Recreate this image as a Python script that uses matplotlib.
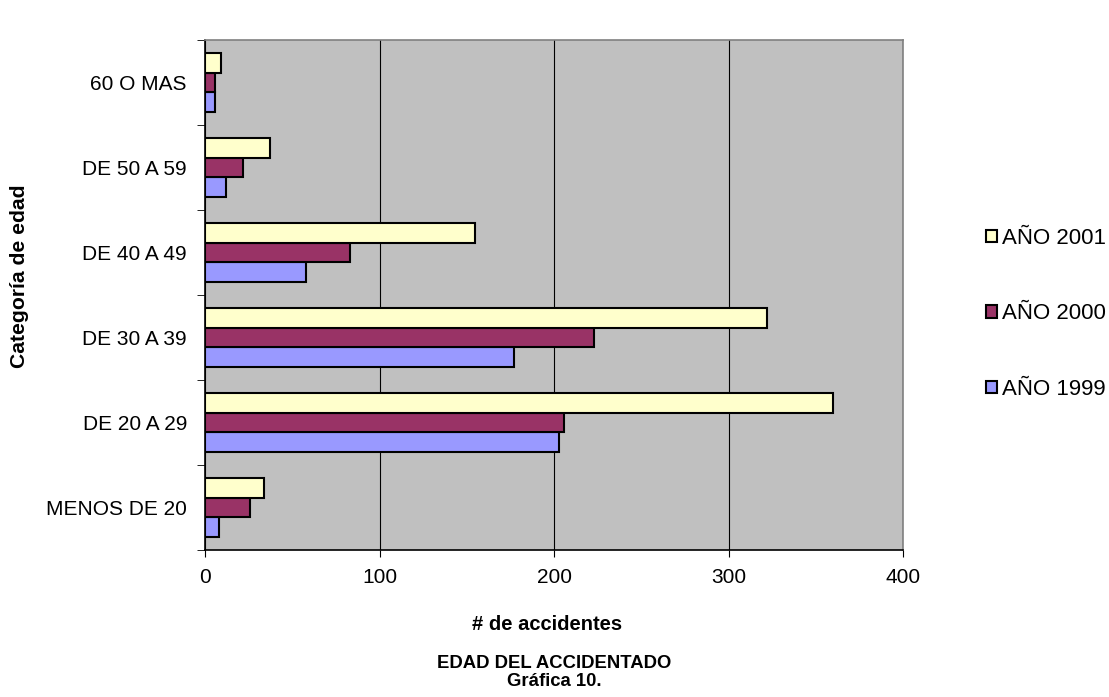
import numpy as np
import matplotlib
matplotlib.use('Agg')
import matplotlib.pyplot as plt

plt.rcParams['font.family'] = ['Liberation Sans', 'DejaVu Sans']

# datos de la grafica
categorias = ['MENOS DE 20', 'DE 20 A 29', 'DE 30 A 39', 'DE 40 A 49', 'DE 50 A 59', '60 O MAS']
anio_1999 = [8, 203, 177, 58, 12, 6]
anio_2000 = [26, 206, 223, 83, 22, 6]
anio_2001 = [34, 360, 322, 155, 37, 9]
x_ticks = [0, 100, 200, 300, 400]

fig = plt.figure(figsize=(11.09, 6.97), dpi=100)
ax = fig.add_axes([205 / 1109, 147 / 697, 698 / 1109, 510 / 697])
ax.set_facecolor('#C0C0C0')

y = np.arange(len(categorias))
h = 0.235
b1 = ax.barh(y - h, anio_1999, h, color='#9999FF', edgecolor='black', linewidth=1.5, label='AÑO 1999', zorder=3)
b2 = ax.barh(y, anio_2000, h, color='#993366', edgecolor='black', linewidth=1.5, label='AÑO 2000', zorder=3)
b3 = ax.barh(y + h, anio_2001, h, color='#FFFFCC', edgecolor='black', linewidth=1.5, label='AÑO 2001', zorder=3)

ax.set_xlim(0, 400)
ax.set_ylim(-0.5, len(categorias) - 0.5)
ax.set_xticks(x_ticks)
ax.set_xticklabels([str(t) for t in x_ticks], fontsize=15)
ax.xaxis.grid(True, color='black', linewidth=0.8, zorder=1)
ax.set_axisbelow(True)

ax.set_yticks(y)
ax.set_yticklabels(categorias, fontsize=15)
ax.set_yticks(np.arange(-0.5, len(categorias), 1), minor=True)
ax.tick_params(axis='y', which='major', length=0, pad=13)
ax.tick_params(axis='y', which='minor', length=6, direction='out')
ax.tick_params(axis='x', length=5, direction='out', pad=8)

for s in ['top', 'right']:
    ax.spines[s].set_color('#808080')
    ax.spines[s].set_linewidth(1.2)
for s in ['left', 'bottom']:
    ax.spines[s].set_color('black')
    ax.spines[s].set_linewidth(1.2)

fig.text(20 / 1109, 1 - 276 / 697, 'Categoría de edad', rotation=90, ha='center', va='center',
         fontsize=15.2, fontweight='bold')
fig.text(547 / 1109, 1 - 625 / 697, '# de accidentes', ha='center', va='center', fontsize=14.5, fontweight='bold')
fig.text(554 / 1109, 1 - 664 / 697, 'EDAD DEL ACCIDENTADO', ha='center', va='center', fontsize=13.3, fontweight='bold')
fig.text(554 / 1109, 1 - 682 / 697, 'Gráfica 10.', ha='center', va='center', fontsize=13.3, fontweight='bold')

leg = fig.legend(handles=[b3, b2, b1], labels=['AÑO 2001', 'AÑO 2000', 'AÑO 1999'],
                 loc='center left', bbox_to_anchor=(986 / 1109, 1 - 314 / 697),
                 frameon=False, fontsize=16, handlelength=0.5, handleheight=0.5,
                 handletextpad=0.2, labelspacing=2.45, borderpad=0, borderaxespad=0)

fig.savefig('out.png', dpi=100)
